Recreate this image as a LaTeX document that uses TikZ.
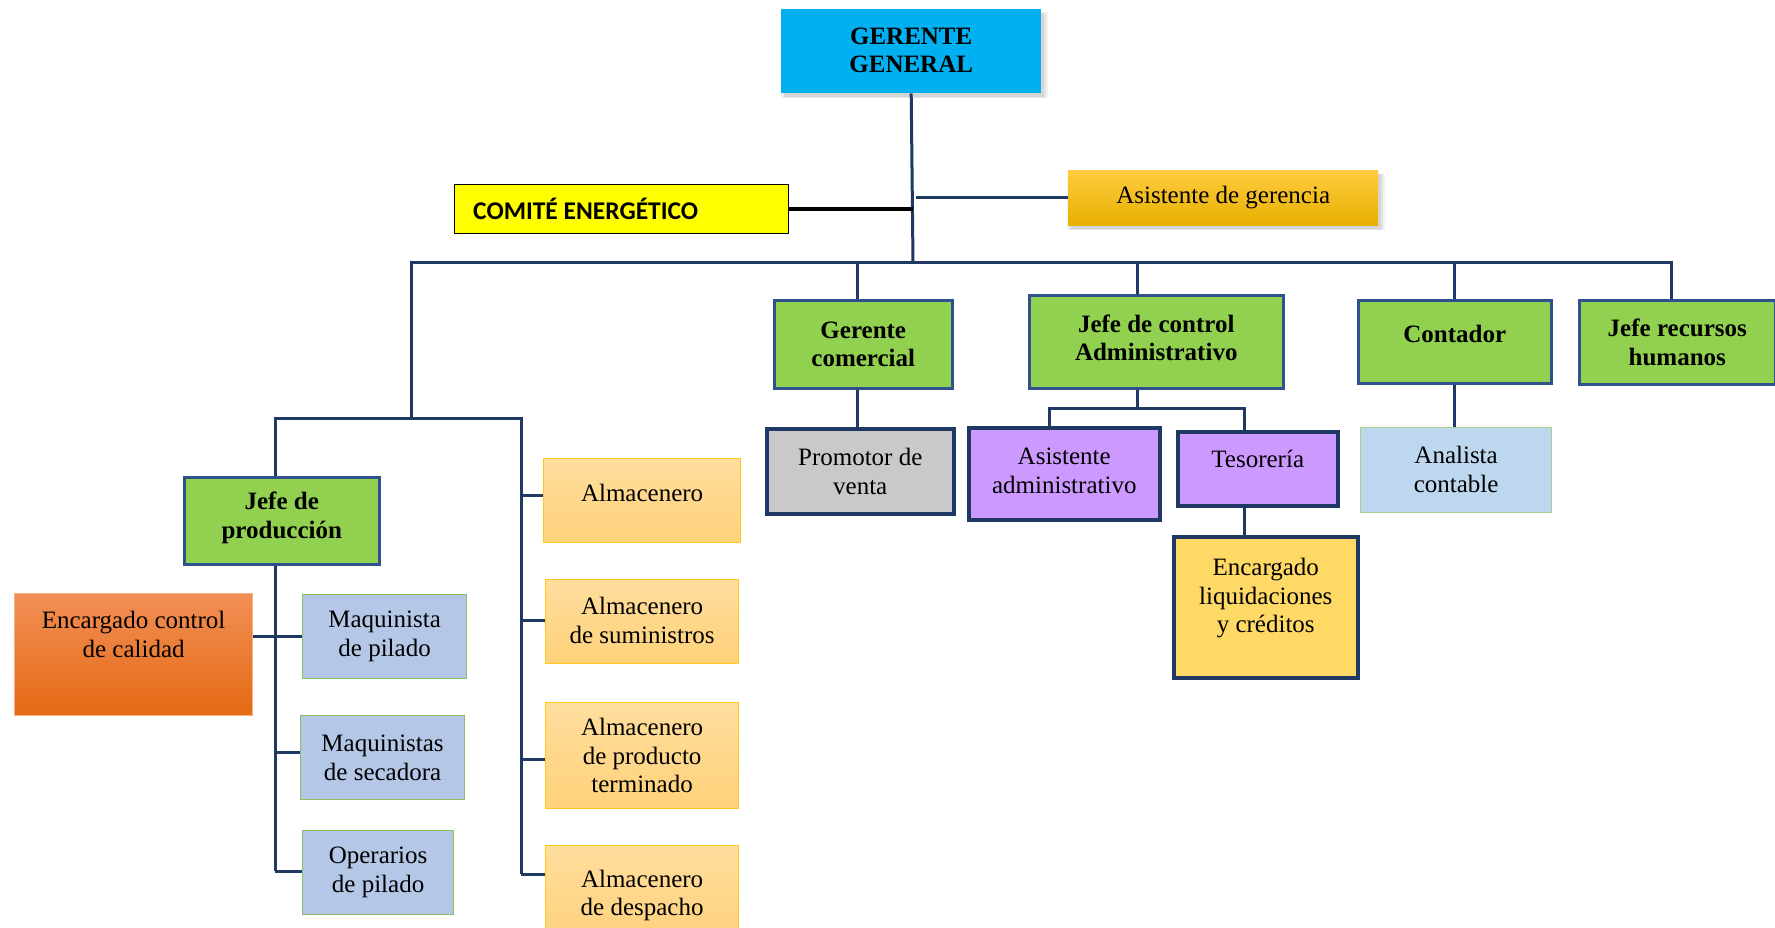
\documentclass[tikz,border=0pt]{standalone}
\usepackage{fontspec}
\setmainfont{Liberation Serif}
\newfontfamily\calibri{Carlito}
\usetikzlibrary{shadows}

\definecolor{navy}{HTML}{1F3864}
\definecolor{greenbox}{HTML}{92D050}
\definecolor{greenedge}{HTML}{2F528F}
\definecolor{cyanbox}{HTML}{00B0F0}
\definecolor{graybox}{HTML}{C9C9C9}
\definecolor{purplebox}{HTML}{CC99FF}
\definecolor{goldbox}{HTML}{FFD966}
\definecolor{skybox}{HTML}{BDD7EE}
\definecolor{skyedge}{HTML}{A9D18E}
\definecolor{steelbox}{HTML}{B4C7E7}
\definecolor{steeledge}{HTML}{8CBF62}
\definecolor{ambertop}{HTML}{FFDD9E}
\definecolor{amberbot}{HTML}{FFD27A}
\definecolor{amberedge}{HTML}{FFC91A}
\definecolor{orangetop}{HTML}{F28E55}
\definecolor{orangebot}{HTML}{E46A14}
\definecolor{orangeedge}{HTML}{F4B183}
\definecolor{assttop}{HTML}{FFCC40}
\definecolor{asstbot}{HTML}{E8B000}
\definecolor{pureyellow}{rgb}{1,1,0}

\tikzset{
  x=1pt, y=-1pt,
  base/.style={rectangle, inner sep=0pt, anchor=north west},
  link/.style={draw=navy, line width=3pt},
  % layered shadow, soft at its rim
  softshadow/.style={
    drop shadow={shadow xshift=3pt, shadow yshift=-4pt, shadow scale=1.025, opacity=0.10},
    drop shadow={shadow xshift=3pt, shadow yshift=-4pt, shadow scale=1.012, opacity=0.12},
    drop shadow={shadow xshift=3pt, shadow yshift=-4pt, opacity=0.15}},
  chief/.style={base, fill=cyanbox, softshadow},
  aide/.style={base, top color=assttop, bottom color=asstbot, softshadow},
  committee/.style={base, fill=pureyellow, draw=black, line width=1pt},
  head/.style={base, fill=greenbox, draw=greenedge, line width=2.5pt},
  clerk/.style={base, fill=graybox, draw=navy, line width=3.5pt},
  admin/.style={base, fill=purplebox, draw=navy, line width=3.5pt},
  credit/.style={base, fill=goldbox, draw=navy, line width=3.5pt},
  analyst/.style={base, fill=skybox, draw=skyedge, line width=1.2pt},
  operator/.style={base, fill=steelbox, draw=steeledge, line width=1.2pt},
  store/.style={base, top color=ambertop, bottom color=amberbot, draw=amberedge, line width=1.2pt},
  quality/.style={base, top color=orangetop, bottom color=orangebot, draw=orangeedge, line width=1.2pt},
  plain/.style={align=center, inner sep=0pt, font=\fontsize{25}{28.7}\selectfont},
  bold/.style={align=center, inner sep=0pt, font=\fontsize{25}{28.7}\selectfont\bfseries},
}

% box: name, box style, text style, x, y, width, height, raise, text
\newcommand\orgbox[9]{%
  \node[#2, minimum width=#6pt, minimum height=#7pt] (#1) at (#4,#5) {};
  \node[#3] (#1-t) at ([yshift=#8pt]#1.center) {#9};
}

\begin{document}
\begin{tikzpicture}
\useasboundingbox (0,0) rectangle (1775,927);
\clip (0,0) rectangle (1775,927);

% top management
\orgbox{gg}{chief}{bold}{781}{9}{260}{84}{1}{GERENTE\\GENERAL}
\node[committee, minimum width=334pt, minimum height=49pt] (com) at (454,184) {};
\node[anchor=west, inner sep=0pt, font=\calibri\bfseries\fontsize{25.5}{30}\selectfont] (com-t)
  at ([xshift=19pt]com.west) {COMITÉ ENERGÉTICO};
\orgbox{ag}{aide}{plain}{1068}{170}{310}{55}{0}{Asistente de gerencia}

% department heads
\orgbox{gc}{head}{bold}{773}{299}{178}{88}{0}{Gerente\\comercial}
\orgbox{jca}{head}{bold}{1028}{294}{254}{93}{4}{Jefe de control\\Administrativo}
\orgbox{cont}{head}{bold}{1357}{299}{193}{83}{8}{Contador}
\orgbox{jrh}{head}{bold}{1578}{299}{196}{84}{0}{Jefe recursos\\humanos}
\orgbox{jp}{head}{bold}{183}{476}{195}{87}{3}{Jefe de\\producción}

% staff under the heads
\orgbox{pv}{clerk}{plain}{765}{427}{187}{85}{0}{Promotor de\\venta}
\orgbox{aa}{admin}{plain}{967}{426}{191}{92}{3}{Asistente\\administrativo}
\orgbox{tes}{admin}{plain}{1176}{430}{160}{74}{10}{Tesorería}
\orgbox{liq}{credit}{plain}{1172}{535}{184}{141}{9}{Encargado\\liquidaciones\\y créditos}
\orgbox{an}{analyst}{plain}{1360}{427}{191}{85}{1}{Analista\\contable}

% production area
\orgbox{ecc}{quality}{plain}{14}{593}{238}{122}{20}{Encargado control\\de calidad}
\orgbox{mp}{operator}{plain}{302}{594}{164}{84}{0}{Maquinista\\de pilado}
\orgbox{ms}{operator}{plain}{300}{715}{164}{84}{0}{Maquinistas\\de secadora}
\orgbox{op}{operator}{plain}{302}{830}{151}{84}{0}{Operarios\\de pilado}

% warehouse staff
\orgbox{al1}{store}{plain}{543}{458}{197}{84}{8}{Almacenero}
\orgbox{al2}{store}{plain}{545}{579}{193}{84}{1}{Almacenero\\de suministros}
\orgbox{al3}{store}{plain}{545}{702}{193}{106}{0}{Almacenero\\de producto\\terminado}
\orgbox{al4}{store}{plain}{545}{845}{193}{100}{0}{Almacenero\\de despacho}

% junction points
\coordinate (busL) at (411,262);
\coordinate (busR) at (1671,262);
\coordinate (spine) at (913,262);
\coordinate (prodBar) at (411,418);
\coordinate (jpTop) at (275,418);
\coordinate (storeTop) at (521,418);
\coordinate (jpBot) at (275,871);
\coordinate (storeBot) at (521,874);
\coordinate (gcDrop) at (857,262);
\coordinate (jcaDrop) at (1137,262);
\coordinate (contDrop) at (1454,262);
\coordinate (jrhDrop) at (1671,262);
\coordinate (jcaBar) at (1137,408);
\coordinate (aaBar) at (1049,408);
\coordinate (tesBar) at (1244,408);

% connectors
\draw[link] (gg.south) -- (spine);
\draw[black, line width=4pt] (com.east) -- (com.east -| spine);
\draw[link] (ag.west) -- ([xshift=3pt]ag.west -| spine);
\draw[link, line cap=rect] (busL) -- (busR);

\draw[link] (gcDrop) -- (gcDrop |- gc.north);
\draw[link] (gcDrop |- gc.south) -- (gcDrop |- pv.north);
\draw[link] (jcaDrop) -- (jcaDrop |- jca.north);
\draw[link] (jcaDrop |- jca.south) -- (jcaBar);
\draw[link] (aaBar |- aa.north) -- (aaBar) -- (tesBar) -- (tesBar |- tes.north);
\draw[link] (tesBar |- tes.south) -- (tesBar |- liq.north);
\draw[link] (contDrop) -- (contDrop |- cont.north);
\draw[link] (contDrop |- cont.south) -- (contDrop |- an.north);
\draw[link] (jrhDrop) -- (jrhDrop |- jrh.north);

\draw[link] (busL) -- (prodBar);
\draw[link] (jpTop |- jp.north) -- (jpTop) -- (storeTop) -- (storeBot);
\draw[link] (jpTop |- jp.south) -- (jpBot);
\draw[link] (ecc.east |- 0,636) -- (mp.west |- 0,636);
\draw[link] (jpTop |- 0,752) -- (ms.west |- 0,752);
\draw[link] (jpBot) -- (op.west |- jpBot);
\draw[link] (storeTop |- 0,495) -- (al1.west |- 0,495);
\draw[link] (storeTop |- 0,620) -- (al2.west |- 0,620);
\draw[link] (storeTop |- 0,759) -- (al3.west |- 0,759);
\draw[link] (storeBot) -- (al4.west |- storeBot);
\end{tikzpicture}
\end{document}
